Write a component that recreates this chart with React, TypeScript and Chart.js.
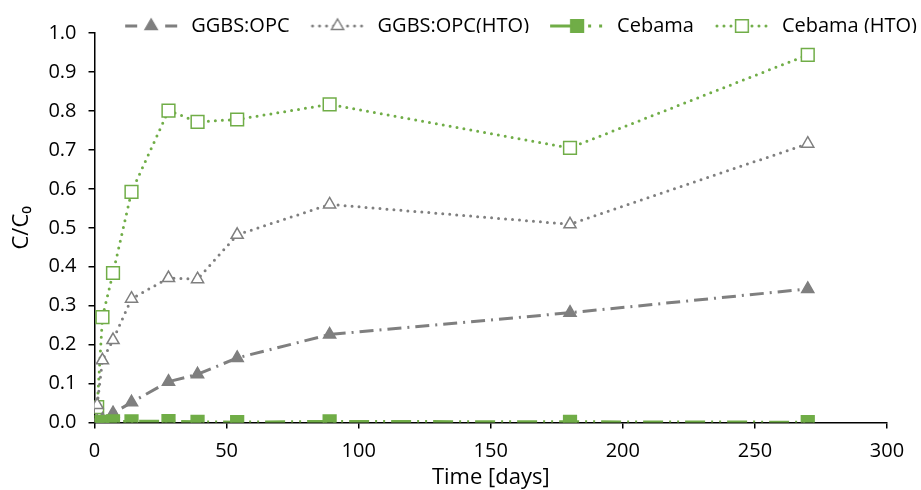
import React, { useEffect, useRef } from "react";
import { Chart, registerables } from "chart.js";

Chart.register(...registerables);

const days = [1, 3, 7, 14, 28, 39, 54, 89, 180, 270];
const ggbsOpc = [0.003, 0.008, 0.024, 0.052, 0.105, 0.124, 0.166, 0.226, 0.282, 0.343];
const ggbsOpcHto = [0.045, 0.16, 0.212, 0.318, 0.371, 0.368, 0.482, 0.56, 0.509, 0.716];
const cebama = [0.001, 0.002, 0.003, 0.003, 0.004, 0.002, 0.001, 0.003, 0.002, 0.001];
const cebamaHto = [0.04, 0.271, 0.384, 0.592, 0.801, 0.772, 0.778, 0.817, 0.705, 0.944];

const seriesNames = ["GGBS:OPC", "GGBS:OPC(HTO)", "Cebama", "Cebama (HTO)"];
const xTicks = [0, 50, 100, 150, 200, 250, 300];
const yTicks = [0, 0.1, 0.2, 0.3, 0.4, 0.5, 0.6, 0.7, 0.8, 0.9, 1.0];

const GRAY = "#7f7f7f";
const GREEN = "#70ad47";
const FONT = "'Open Sans', sans-serif";

const pts = (vals: number[]) => vals.map((v, i) => ({ x: days[i], y: v }));

type Spec = {
  color: string;
  dash: number[];
  cap: CanvasLineCap;
  width: number;
  marker: "triangle" | "rect";
  filled: boolean;
  radius: number;
};

const specs: Spec[] = [
  { color: GRAY, dash: [14, 6, 2, 6], cap: "butt", width: 3, marker: "triangle", filled: true, radius: 7 },
  { color: GRAY, dash: [0, 7], cap: "round", width: 3, marker: "triangle", filled: false, radius: 7 },
  { color: GREEN, dash: [20, 6, 2, 6, 2, 6], cap: "butt", width: 3, marker: "rect", filled: true, radius: 9 },
  { color: GREEN, dash: [0, 7], cap: "round", width: 3, marker: "rect", filled: false, radius: 9 },
];

function legendIcon(s: Spec, idx: number): HTMLCanvasElement {
  const W = 56;
  const c = document.createElement("canvas");
  c.width = W;
  c.height = 20;
  const ctx = c.getContext("2d")!;
  const cx = W / 2;
  ctx.strokeStyle = s.color;
  ctx.lineWidth = s.width;
  ctx.lineCap = s.cap;
  if (idx === 2) {
    ctx.beginPath();
    ctx.moveTo(1, 10);
    ctx.lineTo(cx, 10);
    ctx.stroke();
    ctx.fillStyle = s.color;
    ctx.fillRect(cx + 11, 8.5, 3, 3);
    ctx.fillRect(cx + 22, 8.5, 3, 3);
  } else if (idx === 0) {
    ctx.beginPath();
    ctx.moveTo(2, 10);
    ctx.lineTo(14, 10);
    ctx.moveTo(W - 14, 10);
    ctx.lineTo(W - 2, 10);
    ctx.stroke();
  } else {
    ctx.setLineDash(s.dash);
    ctx.beginPath();
    ctx.moveTo(3, 10);
    ctx.lineTo(W - 2, 10);
    ctx.stroke();
    ctx.setLineDash([]);
  }
  ctx.lineWidth = 1.5;
  ctx.fillStyle = s.filled ? s.color : "#ffffff";
  ctx.strokeStyle = s.color;
  ctx.beginPath();
  if (s.marker === "triangle") {
    const r = s.radius;
    ctx.moveTo(cx, 10 - r);
    ctx.lineTo(cx + r * 0.866, 10 + r * 0.5);
    ctx.lineTo(cx - r * 0.866, 10 + r * 0.5);
    ctx.closePath();
  } else {
    const h = s.radius * Math.SQRT1_2;
    ctx.rect(cx - h, 10 - h, 2 * h, 2 * h);
  }
  ctx.fill();
  ctx.stroke();
  return c;
}

const legendShrink = {
  id: "legendShrink",
  beforeLayout(chart: any) {
    const lg = chart.legend;
    if (lg && !lg._patched) {
      const orig = lg.fit.bind(lg);
      lg.fit = function () {
        orig();
        this.height -= 13;
      };
      lg._patched = true;
    }
  },
};

export default function App() {
  const ref = useRef<HTMLCanvasElement | null>(null);
  useEffect(() => {
    if (!ref.current) return;
    const allVals = [ggbsOpc, ggbsOpcHto, cebama, cebamaHto];
    const datasets = allVals.map((vals, i) => {
      const s = specs[i];
      return {
        label: seriesNames[i],
        data: pts(vals),
        borderColor: s.color,
        backgroundColor: s.filled ? s.color : "#ffffff",
        borderWidth: s.width,
        borderDash: s.dash,
        borderCapStyle: s.cap,
        pointStyle: s.marker,
        pointRadius: s.radius,
        pointBorderWidth: 1.5,
        pointBorderColor: s.color,
        pointBackgroundColor: s.filled ? s.color : "#ffffff",
        tension: 0,
        fill: false,
        showLine: true,
        xAxisID: "x",
        yAxisID: "y",
        order: i === 2 ? -1 : 0,
      };
    });
    const icons = specs.map((s, i) => legendIcon(s, i));
    const chart = new Chart(ref.current, {
      type: "scatter",
      data: { datasets: datasets as any },
      plugins: [legendShrink as any],
      options: {
        animation: false,
        responsive: true,
        maintainAspectRatio: false,
        layout: { padding: { left: 9, right: -14, top: -2, bottom: -1 } },
        plugins: {
          tooltip: { enabled: false },
          legend: {
            position: "top",
            align: "end",
            labels: {
              usePointStyle: true,
              pointStyleWidth: 60,
              padding: 18,
              color: "#000",
              font: { family: FONT, size: 20 },
              generateLabels: () =>
                seriesNames.map((n, i) => ({
                  text: n,
                  pointStyle: icons[i] as any,
                  fillStyle: "#fff",
                  strokeStyle: "#fff",
                  lineWidth: 0,
                  hidden: false,
                  datasetIndex: i,
                  fontColor: "#000",
                })),
            },
          },
        },
        scales: {
          x: {
            type: "linear",
            min: 0,
            max: 300,
            afterBuildTicks: (ax: any) => {
              ax.ticks = xTicks.map((v) => ({ value: v }));
            },
            grid: {
              display: true,
              drawOnChartArea: false,
              drawTicks: true,
              tickLength: 6,
              color: "#000",
              lineWidth: 1.5,
            },
            border: { display: true, color: "#000", width: 1.5 },
            ticks: { color: "#000", font: { family: FONT, size: 20 }, padding: 11 },
            title: {
              display: true,
              text: "Time [days]",
              color: "#000",
              font: { family: FONT, size: 22 },
              padding: { top: -10, bottom: 0 },
            },
          },
          y: {
            type: "linear",
            min: 0,
            max: 1,
            afterBuildTicks: (ax: any) => {
              ax.ticks = yTicks.map((v) => ({ value: v }));
            },
            grid: {
              display: true,
              drawOnChartArea: false,
              drawTicks: true,
              tickLength: 6,
              color: "#000",
              lineWidth: 1.5,
            },
            border: { display: true, color: "#000", width: 1.5 },
            ticks: {
              color: "#000",
              font: { family: FONT, size: 20 },
              padding: 12,
              callback: (v: any) => Number(v).toFixed(1),
            },
            title: {
              display: true,
              text: "C/C₀",
              color: "#000",
              font: { family: FONT, size: 22 },
              padding: { top: 0, bottom: 1 },
            },
          },
          yR: {
            type: "linear",
            position: "right",
            display: true,
            grid: { display: false, drawTicks: false },
            border: { display: false },
            ticks: { display: false },
            afterFit: (s: any) => {
              s.width = 48;
            },
          },
        },
      } as any,
    });
    return () => chart.destroy();
  }, []);
  return (
    <div style={{ position: "fixed", left: 0, top: 0, width: 921, height: 490, background: "#fff" }}>
      <canvas ref={ref} />
    </div>
  );
}
